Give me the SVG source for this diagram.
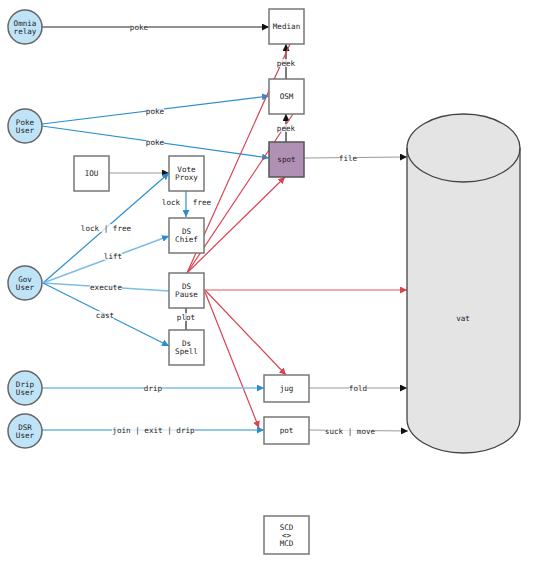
<svg xmlns="http://www.w3.org/2000/svg" width="534" height="566" viewBox="0 0 534 566">
<style>
text{font-family:"DejaVu Sans Mono","Liberation Mono",monospace;font-size:7.6px;fill:#222;text-anchor:middle;dominant-baseline:central}
.user circle{fill:#c0e4f7;stroke:#666;stroke-width:1.5}
.box rect{fill:#fff;stroke:#777;stroke-width:1.5}
.e{fill:none;stroke-width:1.2}
.k{stroke:#222}
.g{stroke:#999}
.b{stroke:#2a8fcf}
.lb{stroke:#7fbde6;stroke-width:1.6}
.r{stroke:#d84352}
.lr{stroke:#eb8e98;stroke-width:1.5}
.lbl{fill:#fff;fill-opacity:0.75}
</style>
<defs>
<marker id="ak" viewBox="0 0 10 10" refX="10" refY="5" markerWidth="7" markerHeight="7" markerUnits="userSpaceOnUse" orient="auto"><path d="M0,0L10,5L0,10z" fill="#111"/></marker>
<marker id="ab" viewBox="0 0 10 10" refX="10" refY="5" markerWidth="7" markerHeight="7" markerUnits="userSpaceOnUse" orient="auto"><path d="M0,0L10,5L0,10z" fill="#2a8fcf"/></marker>
<marker id="ar" viewBox="0 0 10 10" refX="10" refY="5" markerWidth="7" markerHeight="7" markerUnits="userSpaceOnUse" orient="auto"><path d="M0,0L10,5L0,10z" fill="#d84352"/></marker>
</defs>
<g id="connectors">
<line class="e k" x1="42" y1="27" x2="269" y2="27" marker-end="url(#ak)"/>
<line class="e b" x1="42" y1="124" x2="269" y2="96" marker-end="url(#ab)"/>
<line class="e b" x1="42" y1="126" x2="269" y2="158" marker-end="url(#ab)"/>
<line class="e k" x1="286" y1="142" x2="286" y2="114" marker-end="url(#ak)"/>
<line class="e k" x1="286" y1="79" x2="286" y2="44" marker-end="url(#ak)"/>
<line class="e g" x1="304" y1="158" x2="407" y2="157" marker-end="url(#ak)"/>
<line class="e g" x1="109" y1="173" x2="169" y2="173" marker-end="url(#ak)"/>
<line class="e b" x1="186" y1="190" x2="186" y2="217" marker-end="url(#ab)"/>
<line class="e b" x1="43" y1="283" x2="169" y2="173" marker-end="url(#ab)"/>
<line class="e lb" x1="43" y1="283" x2="169" y2="236" marker-end="url(#ab)"/>
<line class="e lb" x1="43" y1="283" x2="169" y2="291"/>
<line class="e b" x1="43" y1="283" x2="169" y2="346" marker-end="url(#ab)"/>
<line class="e k" x1="186" y1="308" x2="186" y2="330"/>
<line class="e r" x1="187" y1="273" x2="290" y2="44"/>
<line class="e r" x1="187" y1="273" x2="293" y2="114"/>
<line class="e r" x1="187" y1="273" x2="285" y2="177" marker-end="url(#ar)"/>
<line class="e lr" x1="204" y1="290" x2="407" y2="290" marker-end="url(#ar)"/>
<line class="e r" x1="205" y1="290" x2="286" y2="375" marker-end="url(#ar)"/>
<line class="e r" x1="205" y1="292" x2="259" y2="428" marker-end="url(#ar)"/>
<line class="e lb" x1="42" y1="388" x2="264" y2="388" marker-end="url(#ab)"/>
<line class="e b" x1="42" y1="430" x2="264" y2="430" marker-end="url(#ab)"/>
<line class="e g" x1="309" y1="388" x2="407" y2="388" marker-end="url(#ak)"/>
<line class="e g" x1="309" y1="430" x2="408" y2="431" marker-end="url(#ak)"/>
<g id="edge-labels">
<rect class="lbl" x="130" y="23" width="18" height="8"/><text x="139" y="27">poke</text>
<rect class="lbl" x="146" y="107" width="18" height="8"/><text x="155" y="111">poke</text>
<rect class="lbl" x="146" y="138" width="18" height="8"/><text x="155" y="142">poke</text>
<rect class="lbl" x="277" y="59" width="18" height="8"/><text x="286" y="63">peek</text>
<rect class="lbl" x="277" y="124" width="18" height="8"/><text x="286" y="128">peek</text>
<rect class="lbl" x="339" y="154" width="18" height="8"/><text x="348" y="158">file</text>
<rect class="lbl" x="80" y="224" width="51" height="8"/><text x="106" y="228">lock | free</text>
<rect class="lbl" x="104" y="252" width="18" height="8"/><text x="113" y="256">lift</text>
<rect class="lbl" x="90" y="283" width="32" height="8"/><text x="106" y="287">execute</text>
<rect class="lbl" x="96" y="311" width="18" height="8"/><text x="105" y="315">cast</text>
<text x="171" y="202">lock</text>
<text x="202" y="202">free</text>
<rect class="lbl" x="177" y="313" width="18" height="8"/><text x="186" y="317">plot</text>
<rect class="lbl" x="144" y="384" width="18" height="8"/><text x="153" y="388">drip</text>
<rect class="lbl" x="112" y="426" width="83" height="8"/><text x="153.5" y="430">join | exit | drip</text>
<rect class="lbl" x="349" y="384" width="18" height="8"/><text x="358" y="388">fold</text>
<rect class="lbl" x="325" y="427" width="50" height="8"/><text x="350" y="431">suck | move</text>
</g>
</g>
<g id="omnia-relay" class="user"><circle cx="25" cy="27" r="17"/><text x="25" y="23">Omnia</text><text x="25" y="31">relay</text></g>
<g id="poke-user" class="user"><circle cx="25" cy="126" r="17"/><text x="25" y="122">Poke</text><text x="25" y="130">User</text></g>
<g id="gov-user" class="user"><circle cx="25" cy="283" r="17"/><text x="25" y="279">Gov</text><text x="25" y="287">User</text></g>
<g id="drip-user" class="user"><circle cx="25" cy="388" r="17"/><text x="25" y="384">Drip</text><text x="25" y="392">User</text></g>
<g id="dsr-user" class="user"><circle cx="25" cy="431" r="17"/><text x="25" y="427">DSR</text><text x="25" y="435">User</text></g>
<g id="median" class="box"><rect x="269" y="9" width="35" height="35"/><text x="286.5" y="26.5">Median</text></g>
<g id="osm" class="box"><rect x="269" y="79" width="35" height="35"/><text x="286.5" y="96.5">OSM</text></g>
<g id="spot" class="box"><rect x="269" y="142" width="35" height="35" style="fill:#b190b6;stroke:#555"/><text x="286.5" y="159.5">spot</text></g>
<g id="iou" class="box"><rect x="74" y="156" width="35" height="35"/><text x="91.5" y="173.5">IOU</text></g>
<g id="vote-proxy" class="box"><rect x="169" y="156" width="35" height="35"/><text x="186.5" y="169.5">Vote</text><text x="186.5" y="177.5">Proxy</text></g>
<g id="ds-chief" class="box"><rect x="169" y="218" width="35" height="35"/><text x="186.5" y="231.5">DS</text><text x="186.5" y="239.5">Chief</text></g>
<g id="ds-pause" class="box"><rect x="169" y="273" width="35" height="35"/><text x="186.5" y="286.5">DS</text><text x="186.5" y="294.5">Pause</text></g>
<g id="ds-spell" class="box"><rect x="169" y="330" width="35" height="35"/><text x="186.5" y="343.5">Ds</text><text x="186.5" y="351.5">Spell</text></g>
<g id="jug" class="box"><rect x="264" y="375" width="45" height="27"/><text x="286.5" y="388.5">jug</text></g>
<g id="pot" class="box"><rect x="264" y="417" width="45" height="27"/><text x="286.5" y="430.5">pot</text></g>
<g id="scd-mcd" class="box"><rect x="264" y="516" width="45" height="38"/><text x="286.5" y="527">SCD</text><text x="286.5" y="535">&lt;&gt;</text><text x="286.5" y="543">MCD</text></g>
<g id="vat">
<path d="M407,148 L407,419 A56.5,34 0 0 0 520,419 L520,148 A56.5,34 0 0 0 407,148 Z" fill="#e4e4e4" stroke="#444" stroke-width="1.3"/>
<path d="M407,148 A56.5,34 0 0 0 520,148" fill="none" stroke="#444" stroke-width="1.3"/>
<text x="463" y="318">vat</text>
</g>
</svg>
